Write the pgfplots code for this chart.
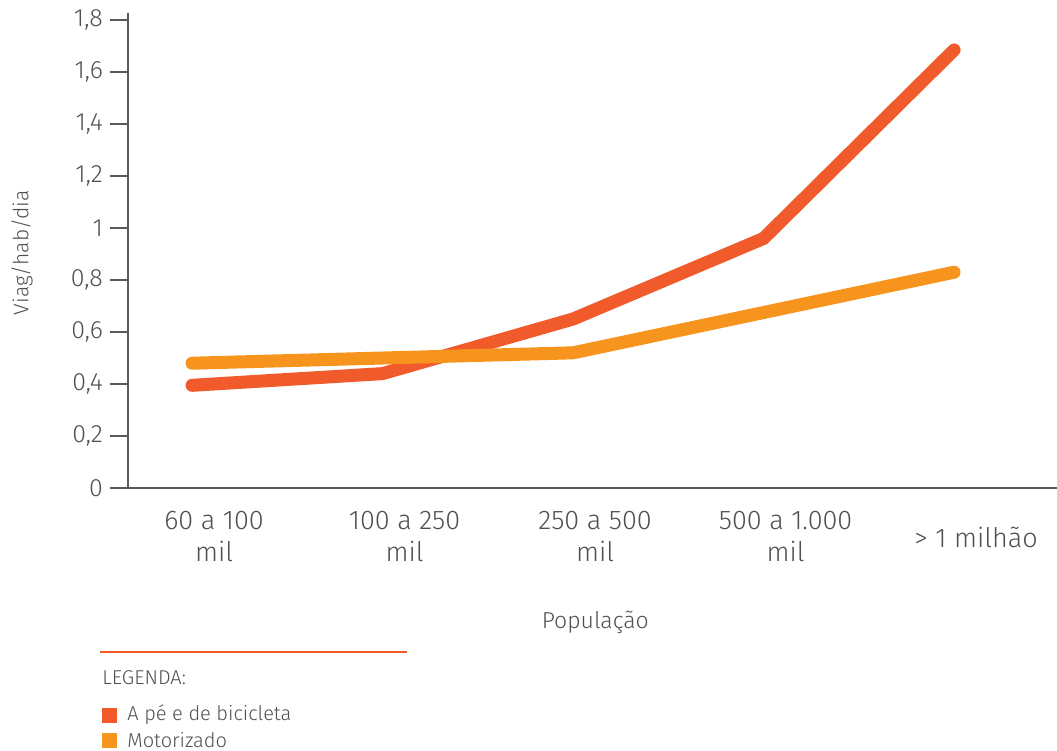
\documentclass[border=0pt]{standalone}
\usepackage{fontspec}
\setmainfont{Fira Sans}[UprightFont={* Light}]
\usepackage{pgfplots}
\pgfplotsset{compat=1.18}

\definecolor{walkred}{HTML}{F15A2B}
\definecolor{motorange}{HTML}{F7941E}
\definecolor{axisgray}{HTML}{5A5A5A}
\definecolor{textgray}{HTML}{505050}

\begin{document}
\begin{tikzpicture}
\useasboundingbox (0,0) rectangle (528.5pt,-375.5pt);

\begin{axis}[
  at={(64pt,-244pt)}, anchor=south west,
  scale only axis, width=464.5pt, height=237.5pt,
  xmin=-0.336, xmax=4.54, ymin=0, ymax=1.827,
  axis x line=bottom, axis y line=left,
  axis line style={-, axisgray, line width=1pt},
  clip=false,
  xtick={0,1,2,3,4},
  xticklabels={{60 a 100\\mil},{100 a 250\\mil},{250 a 500\\mil},{500 a 1.000\\mil},{> 1 milhão}},
  xticklabel style={align=center, anchor=center, yshift=-15.5pt, xshift=11pt,
    font=\fontsize{13.5}{16}\selectfont, text=textgray},
  major x tick style={draw=none},
  ytick={0,0.2,0.4,0.6,0.8,1,1.2,1.4,1.6,1.8},
  tick align=outside, major tick length=9pt,
  major y tick style={axisgray, line width=1pt},
  /pgf/number format/use comma,
  /pgf/number format/fixed,
  /pgf/number format/assume math mode=true,
  yticklabel style={font=\fontsize{12.5}{14}\selectfont, text=textgray},
  ylabel={Viag/hab/dia},
  ylabel style={at={(axis description cs:-0.114,0.495)}, anchor=center, rotate=0,
    font=\fontsize{10.5}{12}\selectfont, text=textgray},
  xlabel={População},
  xlabel style={at={(axis description cs:0.503,-0.283)}, anchor=center,
    font=\fontsize{11.5}{13}\selectfont, text=textgray},
]
% walking and cycling
\addplot[walkred, line width=6.5pt, line cap=round, line join=miter]
  coordinates {(0,0.395) (1,0.44) (2,0.65) (3,0.96) (4,1.685)};
% motorised
\addplot[motorange, line width=6.5pt, line cap=round, line join=miter]
  coordinates {(0,0.48) (1,0.50) (2,0.52) (3,0.675) (4,0.83)};
\end{axis}

% legend block
\draw[walkred, line width=1pt] (50pt,-326pt) -- (203.5pt,-326pt);
\node[anchor=west, inner sep=0pt, text=textgray, font=\fontsize{10}{11}\selectfont]
  at (51pt,-339pt) {LEGENDA:};
\fill[walkred] (51pt,-354pt) rectangle (58.5pt,-361.5pt);
\node[anchor=west, inner sep=0pt, text=textgray, font=\fontsize{10}{11}\selectfont]
  at (63.5pt,-357.5pt) {A pé e de bicicleta};
\fill[motorange] (51pt,-366.5pt) rectangle (58.5pt,-374pt);
\node[anchor=west, inner sep=0pt, text=textgray, font=\fontsize{10}{11}\selectfont]
  at (63.5pt,-370pt) {Motorizado};
\end{tikzpicture}
\end{document}
